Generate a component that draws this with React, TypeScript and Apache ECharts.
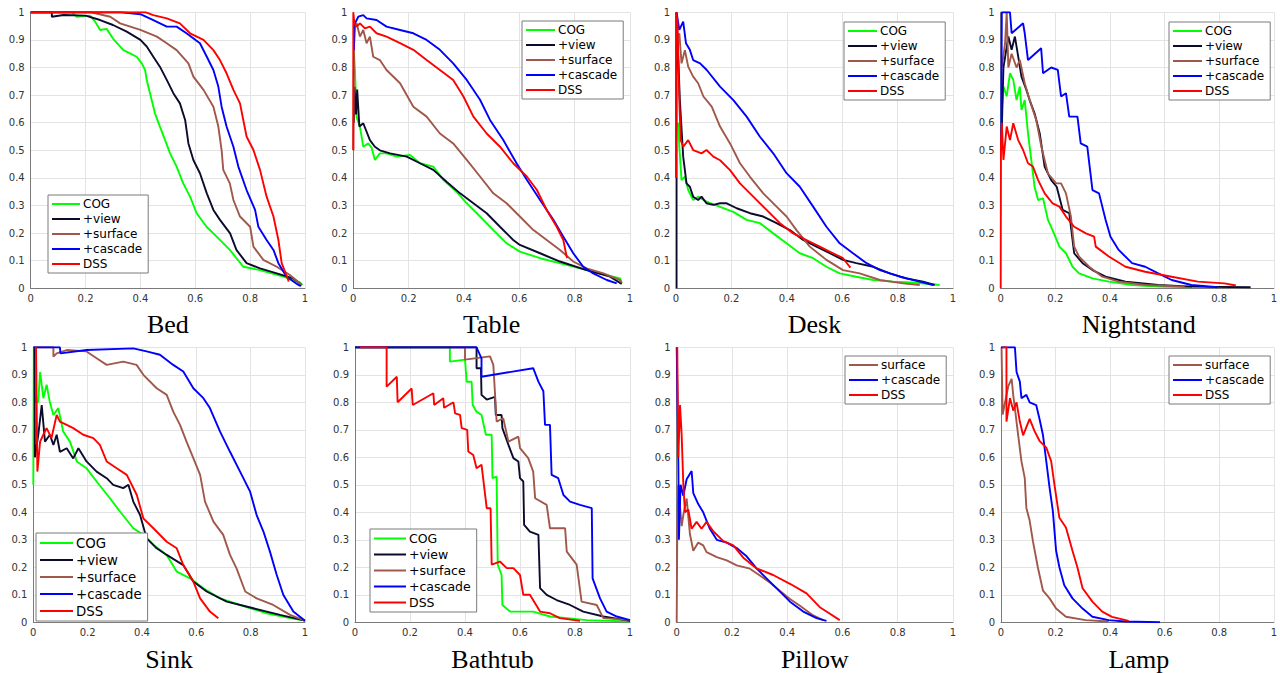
import React, { useEffect, useRef } from "react";
import * as echarts from "echarts";

// ---------- data (recall, precision) ----------
const bedCOG = [[0,1],[0.15,1],[0.168,0.984],[0.216,0.988],[0.235,0.966],[0.253,0.936],[0.277,0.94],[0.30,0.905],[0.338,0.863],[0.362,0.851],[0.386,0.839],[0.405,0.815],[0.417,0.791],[0.423,0.755],[0.441,0.682],[0.453,0.634],[0.471,0.586],[0.49,0.537],[0.508,0.489],[0.532,0.441],[0.556,0.38],[0.581,0.332],[0.605,0.272],[0.641,0.223],[0.678,0.187],[0.726,0.139],[0.775,0.078],[0.836,0.066],[0.921,0.042],[0.982,0.021],[0.99,0.012]];
const bedView = [[0,1],[0.077,1],[0.077,0.984],[0.12,0.99],[0.2,0.988],[0.253,0.972],[0.30,0.954],[0.35,0.93],[0.40,0.90],[0.423,0.876],[0.447,0.839],[0.471,0.803],[0.496,0.755],[0.52,0.707],[0.544,0.67],[0.563,0.61],[0.575,0.525],[0.593,0.465],[0.617,0.417],[0.642,0.344],[0.666,0.284],[0.69,0.248],[0.727,0.199],[0.75,0.139],[0.787,0.091],[0.836,0.072],[0.897,0.054],[0.957,0.036],[0.988,0.012]];
const bedSurface = [[0,1],[0.22,1],[0.29,0.984],[0.326,0.96],[0.40,0.936],[0.46,0.912],[0.496,0.888],[0.532,0.863],[0.575,0.815],[0.593,0.767],[0.63,0.719],[0.666,0.658],[0.684,0.586],[0.696,0.501],[0.702,0.429],[0.726,0.38],[0.739,0.32],[0.763,0.26],[0.80,0.223],[0.812,0.151],[0.848,0.103],[0.897,0.078],[0.945,0.048],[0.988,0.012]];
const bedCascade = [[0,1],[0.33,1],[0.40,0.993],[0.447,0.972],[0.496,0.948],[0.532,0.948],[0.568,0.924],[0.617,0.888],[0.642,0.839],[0.666,0.791],[0.684,0.731],[0.696,0.658],[0.714,0.586],[0.739,0.513],[0.757,0.441],[0.787,0.356],[0.818,0.284],[0.83,0.223],[0.86,0.175],[0.885,0.139],[0.903,0.091],[0.933,0.042],[0.976,0.012],[0.985,0.008]];
const bedDSS = [[0,1],[0.42,1],[0.447,0.99],[0.496,0.978],[0.544,0.96],[0.581,0.924],[0.63,0.90],[0.666,0.863],[0.69,0.827],[0.714,0.779],[0.739,0.719],[0.763,0.67],[0.775,0.61],[0.787,0.55],[0.812,0.501],[0.836,0.429],[0.86,0.332],[0.885,0.26],[0.903,0.175],[0.915,0.091],[0.939,0.03],[0.94,0.024]];

const tableCOG = [[0.002,0.86],[0.006,0.79],[0.012,0.62],[0.024,0.586],[0.036,0.513],[0.054,0.525],[0.066,0.51],[0.078,0.465],[0.096,0.489],[0.12,0.489],[0.157,0.477],[0.205,0.483],[0.241,0.453],[0.289,0.441],[0.325,0.393],[0.373,0.35],[0.41,0.308],[0.458,0.26],[0.506,0.211],[0.554,0.163],[0.602,0.133],[0.675,0.109],[0.771,0.085],[0.867,0.06],[0.964,0.036],[0.97,0.018]];
const tableView = [[0.002,0.6],[0.004,0.73],[0.01,0.63],[0.014,0.72],[0.022,0.586],[0.036,0.598],[0.06,0.537],[0.078,0.513],[0.096,0.5],[0.133,0.489],[0.193,0.477],[0.241,0.453],[0.289,0.429],[0.337,0.386],[0.386,0.344],[0.434,0.308],[0.482,0.272],[0.53,0.223],[0.578,0.175],[0.602,0.157],[0.675,0.127],[0.747,0.097],[0.843,0.066],[0.928,0.042],[0.97,0.016]];
const tableSurface = [[0,0.5],[0.003,0.95],[0.012,0.96],[0.024,0.912],[0.036,0.936],[0.048,0.888],[0.06,0.912],[0.072,0.839],[0.096,0.827],[0.12,0.791],[0.169,0.743],[0.217,0.658],[0.265,0.622],[0.313,0.561],[0.361,0.525],[0.41,0.465],[0.458,0.405],[0.506,0.344],[0.554,0.308],[0.602,0.26],[0.651,0.211],[0.699,0.175],[0.747,0.139],[0.795,0.097],[0.843,0.072],[0.904,0.054],[0.964,0.03],[0.97,0.02]];
const tableCascade = [[0.002,0.864],[0.006,0.96],[0.018,0.984],[0.036,0.99],[0.048,0.978],[0.084,0.972],[0.12,0.948],[0.169,0.936],[0.217,0.924],[0.265,0.9],[0.313,0.864],[0.361,0.815],[0.41,0.755],[0.458,0.683],[0.494,0.61],[0.542,0.537],[0.59,0.453],[0.627,0.393],[0.675,0.32],[0.723,0.248],[0.759,0.187],[0.795,0.127],[0.831,0.078],[0.867,0.054],[0.916,0.03],[0.952,0.018]];
const tableDSS = [[0,0.5],[0,1],[0.004,0.96],[0.012,0.948],[0.024,0.96],[0.042,0.942],[0.06,0.948],[0.084,0.924],[0.12,0.912],[0.169,0.888],[0.217,0.864],[0.265,0.827],[0.313,0.791],[0.361,0.755],[0.398,0.695],[0.434,0.622],[0.482,0.561],[0.53,0.513],[0.578,0.453],[0.627,0.405],[0.663,0.357],[0.699,0.284],[0.735,0.223],[0.759,0.175],[0.771,0.115],[0.774,0.11]];

const deskCOG = [[0.008,0.6],[0.012,0.513],[0.02,0.392],[0.032,0.404],[0.044,0.356],[0.062,0.32],[0.08,0.332],[0.11,0.314],[0.159,0.295],[0.207,0.277],[0.255,0.248],[0.303,0.236],[0.351,0.199],[0.399,0.163],[0.447,0.127],[0.495,0.109],[0.543,0.078],[0.591,0.054],[0.651,0.042],[0.712,0.03],[0.784,0.024],[0.868,0.02],[0.952,0.012]];
const deskView = [[0.002,0],[0.002,1],[0.008,0.84],[0.014,0.68],[0.026,0.477],[0.038,0.38],[0.05,0.368],[0.062,0.332],[0.08,0.32],[0.092,0.332],[0.11,0.308],[0.135,0.302],[0.159,0.308],[0.183,0.308],[0.219,0.29],[0.267,0.272],[0.315,0.26],[0.363,0.236],[0.411,0.211],[0.459,0.175],[0.507,0.151],[0.555,0.127],[0.603,0.103],[0.651,0.091],[0.712,0.078],[0.772,0.054],[0.832,0.036],[0.892,0.024],[0.934,0.012]];
const deskSurface = [[0.002,0.9],[0.012,0.924],[0.02,0.815],[0.032,0.863],[0.044,0.803],[0.062,0.767],[0.08,0.743],[0.099,0.695],[0.129,0.658],[0.159,0.586],[0.195,0.525],[0.231,0.453],[0.267,0.404],[0.315,0.344],[0.363,0.296],[0.399,0.26],[0.435,0.211],[0.483,0.151],[0.543,0.103],[0.603,0.066],[0.663,0.054],[0.736,0.03],[0.82,0.018],[0.88,0.012]];
const deskCascade = [[0.002,1],[0.012,0.936],[0.026,0.966],[0.036,0.888],[0.05,0.864],[0.062,0.827],[0.087,0.815],[0.111,0.791],[0.159,0.731],[0.207,0.682],[0.255,0.622],[0.303,0.549],[0.351,0.489],[0.399,0.417],[0.447,0.368],[0.495,0.296],[0.543,0.223],[0.591,0.163],[0.639,0.127],[0.688,0.091],[0.736,0.066],[0.808,0.042],[0.88,0.024],[0.928,0.012]];
const deskDSS = [[0,0.4],[0,1],[0.005,0.97],[0.012,0.68],[0.017,0.537],[0.026,0.513],[0.044,0.537],[0.062,0.501],[0.092,0.489],[0.11,0.501],[0.135,0.477],[0.159,0.464],[0.195,0.428],[0.231,0.38],[0.279,0.332],[0.327,0.284],[0.375,0.236],[0.423,0.199],[0.471,0.175],[0.519,0.151],[0.567,0.127],[0.603,0.109],[0.627,0.078],[0.63,0.075]];

const nsCOG = [[0.002,0.5],[0.004,0.646],[0.01,0.731],[0.022,0.695],[0.034,0.779],[0.046,0.755],[0.058,0.682],[0.07,0.731],[0.076,0.646],[0.088,0.682],[0.1,0.561],[0.112,0.465],[0.124,0.368],[0.137,0.32],[0.155,0.326],[0.173,0.248],[0.19,0.211],[0.215,0.151],[0.239,0.127],[0.263,0.078],[0.287,0.054],[0.336,0.036],[0.396,0.024],[0.481,0.012],[0.577,0.006],[0.7,0.004]];
const nsView = [[0.002,0.5],[0.01,0.8],[0.028,0.912],[0.04,0.864],[0.052,0.912],[0.064,0.84],[0.076,0.767],[0.094,0.719],[0.106,0.682],[0.124,0.634],[0.143,0.561],[0.161,0.44],[0.185,0.392],[0.205,0.368],[0.227,0.284],[0.251,0.272],[0.269,0.127],[0.3,0.091],[0.336,0.066],[0.384,0.042],[0.457,0.024],[0.577,0.012],[0.7,0.006],[0.915,0.004]];
const nsSurface = [[0.004,0.8],[0.016,0.888],[0.022,1],[0.028,0.8],[0.04,0.85],[0.058,0.8],[0.07,0.827],[0.088,0.743],[0.106,0.682],[0.13,0.61],[0.149,0.513],[0.173,0.416],[0.203,0.38],[0.221,0.38],[0.239,0.344],[0.257,0.26],[0.269,0.151],[0.287,0.115],[0.324,0.078],[0.372,0.042],[0.432,0.024],[0.529,0.012],[0.674,0.006]];
const nsCascade = [[0.002,0.5],[0.004,1],[0.034,1],[0.04,0.924],[0.082,0.96],[0.088,0.924],[0.1,0.827],[0.148,0.87],[0.155,0.779],[0.185,0.8],[0.209,0.791],[0.221,0.695],[0.239,0.707],[0.251,0.622],[0.281,0.622],[0.293,0.525],[0.317,0.513],[0.336,0.356],[0.36,0.344],[0.384,0.248],[0.402,0.187],[0.432,0.139],[0.481,0.091],[0.529,0.078],[0.577,0.054],[0.626,0.03],[0.698,0.012],[0.795,0.004]];
const nsDSS = [[0,0],[0.001,0.525],[0.004,0.6],[0.01,0.465],[0.022,0.586],[0.034,0.537],[0.046,0.598],[0.064,0.537],[0.082,0.501],[0.1,0.453],[0.118,0.441],[0.137,0.392],[0.161,0.344],[0.19,0.308],[0.215,0.296],[0.239,0.26],[0.269,0.223],[0.312,0.199],[0.342,0.187],[0.348,0.151],[0.396,0.115],[0.457,0.078],[0.529,0.06],[0.626,0.042],[0.722,0.024],[0.819,0.018],[0.861,0.01]];

const sinkCOG = [[0,0.5],[0.002,1],[0.006,0.8],[0.018,0.8],[0.025,0.91],[0.037,0.815],[0.049,0.864],[0.061,0.8],[0.074,0.754],[0.092,0.779],[0.11,0.694],[0.135,0.657],[0.16,0.585],[0.196,0.56],[0.233,0.512],[0.282,0.451],[0.319,0.403],[0.368,0.342],[0.405,0.318],[0.442,0.282],[0.491,0.245],[0.528,0.184],[0.577,0.16],[0.626,0.124],[0.687,0.087],[0.761,0.063],[0.859,0.033],[0.945,0.015],[1,0.006]];
const sinkView = [[0.004,1],[0.006,0.6],[0.018,0.68],[0.031,0.79],[0.043,0.657],[0.061,0.682],[0.074,0.645],[0.086,0.682],[0.098,0.62],[0.123,0.633],[0.147,0.596],[0.166,0.633],[0.196,0.585],[0.233,0.548],[0.27,0.524],[0.294,0.5],[0.331,0.488],[0.35,0.5],[0.368,0.439],[0.393,0.39],[0.417,0.306],[0.454,0.269],[0.491,0.245],[0.552,0.208],[0.589,0.148],[0.638,0.112],[0.712,0.075],[0.81,0.051],[0.908,0.027],[1,0.006]];
const sinkSurface = [[0,1],[0.074,1],[0.074,0.966],[0.086,0.978],[0.123,0.99],[0.196,0.985],[0.233,0.96],[0.27,0.936],[0.331,0.948],[0.38,0.936],[0.405,0.9],[0.454,0.851],[0.491,0.827],[0.515,0.766],[0.54,0.718],[0.564,0.657],[0.589,0.597],[0.614,0.536],[0.632,0.439],[0.663,0.366],[0.699,0.318],[0.724,0.245],[0.748,0.196],[0.78,0.112],[0.822,0.087],[0.883,0.063],[0.945,0.027],[1,0.006]];
const sinkCascade = [[0,1],[0.098,1],[0.1,0.978],[0.196,0.99],[0.368,0.996],[0.417,0.985],[0.466,0.973],[0.515,0.936],[0.552,0.912],[0.589,0.851],[0.626,0.815],[0.65,0.779],[0.687,0.694],[0.724,0.62],[0.761,0.548],[0.798,0.475],[0.822,0.39],[0.847,0.33],[0.871,0.257],[0.896,0.172],[0.92,0.1],[0.957,0.039],[1,0.006]];
const sinkDSS = [[0.01,1],[0.015,0.548],[0.025,0.657],[0.037,0.682],[0.049,0.706],[0.067,0.67],[0.086,0.754],[0.098,0.73],[0.123,0.718],[0.147,0.706],[0.184,0.682],[0.221,0.67],[0.245,0.645],[0.27,0.585],[0.307,0.56],[0.344,0.536],[0.381,0.463],[0.405,0.378],[0.442,0.342],[0.491,0.293],[0.528,0.269],[0.552,0.208],[0.589,0.148],[0.614,0.087],[0.65,0.039],[0.681,0.015]];

const bathCOG = [[0,1],[0.345,1],[0.345,0.948],[0.4,0.955],[0.406,0.875],[0.424,0.875],[0.428,0.79],[0.442,0.766],[0.46,0.754],[0.476,0.682],[0.497,0.682],[0.5,0.524],[0.515,0.53],[0.519,0.21],[0.533,0.172],[0.536,0.063],[0.564,0.039],[0.648,0.039],[0.709,0.021],[0.842,0.008],[1,0.003]];
const bathView = [[0,1],[0.442,1],[0.442,0.924],[0.458,0.924],[0.46,0.827],[0.479,0.81],[0.509,0.82],[0.512,0.754],[0.533,0.754],[0.536,0.706],[0.558,0.645],[0.576,0.597],[0.594,0.585],[0.6,0.524],[0.612,0.512],[0.615,0.354],[0.636,0.33],[0.667,0.318],[0.673,0.124],[0.697,0.1],[0.733,0.081],[0.782,0.063],[0.83,0.039],[0.903,0.021],[1,0.005]];
const bathSurface = [[0,1],[0.4,1],[0.4,0.955],[0.491,0.967],[0.503,0.936],[0.515,0.73],[0.539,0.742],[0.558,0.657],[0.594,0.675],[0.6,0.633],[0.63,0.597],[0.648,0.548],[0.655,0.451],[0.697,0.427],[0.709,0.342],[0.764,0.342],[0.77,0.257],[0.806,0.21],[0.824,0.075],[0.879,0.063],[0.903,0.015],[1,0.008]];
const bathCascade = [[0,1],[0.442,1],[0.46,0.96],[0.46,0.893],[0.648,0.924],[0.667,0.875],[0.685,0.84],[0.691,0.718],[0.709,0.718],[0.715,0.536],[0.739,0.524],[0.758,0.463],[0.782,0.439],[0.818,0.427],[0.861,0.415],[0.864,0.16],[0.891,0.087],[0.915,0.039],[0.952,0.021],[1,0.008]];
const bathDSS = [[0.018,1],[0.115,1],[0.115,0.857],[0.152,0.893],[0.155,0.8],[0.206,0.85],[0.21,0.79],[0.285,0.833],[0.288,0.79],[0.321,0.815],[0.324,0.78],[0.358,0.8],[0.364,0.76],[0.382,0.754],[0.388,0.706],[0.408,0.7],[0.412,0.621],[0.43,0.608],[0.442,0.56],[0.46,0.573],[0.479,0.415],[0.493,0.415],[0.497,0.21],[0.527,0.221],[0.552,0.197],[0.576,0.197],[0.6,0.172],[0.612,0.1],[0.636,0.1],[0.673,0.039],[0.709,0.033],[0.745,0.015],[0.818,0.005]];

const pilSurface = [[0,0],[0.002,0.32],[0.006,0.5],[0.012,0.42],[0.018,0.35],[0.024,0.39],[0.036,0.45],[0.048,0.32],[0.06,0.26],[0.078,0.29],[0.096,0.28],[0.108,0.255],[0.145,0.237],[0.181,0.225],[0.217,0.207],[0.265,0.195],[0.301,0.17],[0.337,0.145],[0.373,0.115],[0.41,0.085],[0.446,0.06],[0.494,0.025],[0.53,0.008]];
const pilCascade = [[0,1],[0.006,0.57],[0.008,0.3],[0.014,0.5],[0.024,0.46],[0.036,0.52],[0.054,0.55],[0.06,0.47],[0.078,0.43],[0.096,0.4],[0.12,0.34],[0.145,0.3],[0.181,0.29],[0.217,0.27],[0.253,0.24],[0.289,0.196],[0.325,0.16],[0.361,0.124],[0.41,0.075],[0.458,0.039],[0.506,0.015],[0.542,0.005]];
const pilDSS = [[0.002,1],[0.006,0.6],[0.012,0.79],[0.018,0.68],[0.024,0.5],[0.03,0.4],[0.042,0.41],[0.054,0.34],[0.072,0.365],[0.09,0.34],[0.108,0.365],[0.133,0.33],[0.169,0.295],[0.205,0.28],[0.241,0.235],[0.289,0.196],[0.349,0.172],[0.41,0.14],[0.47,0.105],[0.518,0.055],[0.542,0.039],[0.59,0.008]];

const lampSurface = [[0.002,1],[0.006,0.755],[0.015,0.8],[0.027,0.86],[0.039,0.885],[0.045,0.825],[0.051,0.778],[0.063,0.68],[0.075,0.585],[0.087,0.525],[0.093,0.416],[0.105,0.37],[0.117,0.295],[0.135,0.2],[0.154,0.115],[0.178,0.087],[0.202,0.05],[0.238,0.02],[0.31,0.008],[0.395,0.003]];
const lampCascade = [[0,1],[0.051,1],[0.057,0.91],[0.069,0.875],[0.075,0.815],[0.093,0.827],[0.105,0.8],[0.129,0.79],[0.141,0.74],[0.154,0.68],[0.166,0.585],[0.178,0.49],[0.19,0.405],[0.202,0.26],[0.214,0.2],[0.232,0.135],[0.262,0.087],[0.299,0.05],[0.335,0.02],[0.395,0.008],[0.456,0.003],[0.583,0]];
const lampDSS = [[0.006,1],[0.02,1],[0.02,0.73],[0.033,0.815],[0.045,0.77],[0.057,0.8],[0.069,0.73],[0.081,0.68],[0.105,0.74],[0.123,0.695],[0.141,0.66],[0.166,0.635],[0.184,0.585],[0.196,0.5],[0.214,0.38],[0.238,0.345],[0.262,0.26],[0.28,0.2],[0.299,0.124],[0.335,0.075],[0.371,0.039],[0.407,0.02],[0.468,0.005]];

const titles = ["Bed", "Table", "Desk", "Nightstand", "Sink", "Bathtub", "Pillow", "Lamp"];
const fiveNames = ["COG", "+view", "+surface", "+cascade", "DSS"];
const threeNames = ["surface", "+cascade", "DSS"];

const panelSeries: [string, number[][]][][] = [
  [["COG", bedCOG], ["+view", bedView], ["+surface", bedSurface], ["+cascade", bedCascade], ["DSS", bedDSS]],
  [["COG", tableCOG], ["+view", tableView], ["+surface", tableSurface], ["+cascade", tableCascade], ["DSS", tableDSS]],
  [["COG", deskCOG], ["+view", deskView], ["+surface", deskSurface], ["+cascade", deskCascade], ["DSS", deskDSS]],
  [["COG", nsCOG], ["+view", nsView], ["+surface", nsSurface], ["+cascade", nsCascade], ["DSS", nsDSS]],
  [["COG", sinkCOG], ["+view", sinkView], ["+surface", sinkSurface], ["+cascade", sinkCascade], ["DSS", sinkDSS]],
  [["COG", bathCOG], ["+view", bathView], ["+surface", bathSurface], ["+cascade", bathCascade], ["DSS", bathDSS]],
  [["surface", pilSurface], ["+cascade", pilCascade], ["DSS", pilDSS]],
  [["surface", lampSurface], ["+cascade", lampCascade], ["DSS", lampDSS]],
];
const legendNames = [fiveNames, fiveNames, fiveNames, fiveNames, fiveNames, fiveNames, threeNames, threeNames];

// ---------- styling / layout ----------
const COLORS: Record<string, string> = {
  COG: "#00ff00",
  "+view": "#0b0b2e",
  "+surface": "#a0584a",
  surface: "#a0584a",
  "+cascade": "#0000ff",
  DSS: "#ff0000",
};

// [left, top, width, height]
const gridBoxes = [
  [30.7, 12.3, 274.3, 276],
  [353.3, 12.3, 276.7, 276],
  [676, 12.3, 277, 276],
  [1000.7, 12.3, 276, 276],
  [33.3, 347.3, 271.7, 275],
  [355, 347.3, 275, 275],
  [676.7, 347.3, 276.3, 275],
  [1001, 347.3, 275.7, 275],
];
const titleY = [324, 324, 324, 324, 659, 659, 659, 659];

const legendBoxes = [
  { left: 48, top: 195, fontSize: 12, itemWidth: 28, lineHeight: 14, gap: 1 },
  { left: 522, top: 21, fontSize: 12, itemWidth: 29, lineHeight: 14, gap: 1 },
  { left: 844, top: 22, fontSize: 12, itemWidth: 29, lineHeight: 14, gap: 1 },
  { left: 1169, top: 22, fontSize: 12, itemWidth: 29, lineHeight: 14, gap: 1 },
  { left: 36, top: 533, fontSize: 13.3, itemWidth: 33, lineHeight: 16, gap: 1 },
  { left: 370, top: 529, fontSize: 12.5, itemWidth: 32, lineHeight: 15, gap: 1 },
  { left: 845, top: 356, fontSize: 12, itemWidth: 29, lineHeight: 14, gap: 1 },
  { left: 1169, top: 356, fontSize: 12, itemWidth: 29, lineHeight: 14, gap: 1 },
];

const AXIS_COLOR = "#7a7a7a";
const LABEL_COLOR = "#333333";
const GRID_COLOR = "#e3e3e3";

export default function App() {
  const ref = useRef<HTMLDivElement>(null);
  useEffect(() => {
    if (!ref.current) return;
    const chart = echarts.init(ref.current, undefined, { renderer: "svg" });
    const grid = gridBoxes.map(([l, t, w, h]) => ({ left: l, top: t, width: w, height: h, containLabel: false }));
    const labelStyle = { color: LABEL_COLOR, fontSize: 10, fontFamily: "DejaVu Sans" };
    const xAxis = gridBoxes.map((_, i) => ({
      type: "value",
      gridIndex: i,
      min: 0,
      max: 1,
      interval: 0.2,
      axisLine: { show: true, lineStyle: { color: AXIS_COLOR, width: 1 } },
      axisTick: { show: false },
      axisLabel: { ...labelStyle, margin: 5 },
      splitLine: { show: true, lineStyle: { color: GRID_COLOR, width: 1 } },
    }));
    const yAxis = gridBoxes.map((_, i) => ({
      type: "value",
      gridIndex: i,
      min: 0,
      max: 1,
      interval: 0.1,
      axisLine: { show: true, lineStyle: { color: AXIS_COLOR, width: 1 } },
      axisTick: { show: false },
      axisLabel: { ...labelStyle, margin: 6 },
      splitLine: { show: true, lineStyle: { color: GRID_COLOR, width: 1 } },
    }));
    const series: any[] = [];
    panelSeries.forEach((list, i) => {
      list.forEach(([name, data]) => {
        series.push({
          type: "line",
          name,
          xAxisIndex: i,
          yAxisIndex: i,
          data,
          showSymbol: false,
          symbol: "none",
          color: COLORS[name],
          lineStyle: { color: COLORS[name], width: 1.9 },
          emphasis: { disabled: true },
        });
      });
    });
    const legend = legendBoxes.map((b, i) => ({
      left: b.left,
      top: b.top,
      orient: "vertical",
      data: legendNames[i],
      icon: "rect",
      itemWidth: b.itemWidth,
      itemHeight: 2,
      itemGap: b.gap,
      selectedMode: false,
      backgroundColor: "#ffffff",
      borderColor: AXIS_COLOR,
      borderWidth: 1,
      borderRadius: 0,
      padding: [2, 6, 2, 4],
      textStyle: { color: "#000", fontSize: b.fontSize, fontFamily: "DejaVu Sans", lineHeight: b.lineHeight, padding: [0, 0, 0, -2] },
    }));
    const graphic = titles.map((t, i) => ({
      type: "text",
      x: gridBoxes[i][0] + gridBoxes[i][2] / 2,
      y: titleY[i],
      style: {
        text: t,
        font: '26px "Liberation Serif"',
        fill: "#000",
        textAlign: "center",
        textVerticalAlign: "middle",
      },
    }));
    chart.setOption({
      animation: false,
      backgroundColor: "#ffffff",
      grid,
      xAxis,
      yAxis,
      series,
      legend,
      graphic,
    } as any);
    return () => chart.dispose();
  }, []);
  return <div ref={ref} style={{ position: "fixed", left: 0, top: 0, width: 1280, height: 673 }} />;
}
